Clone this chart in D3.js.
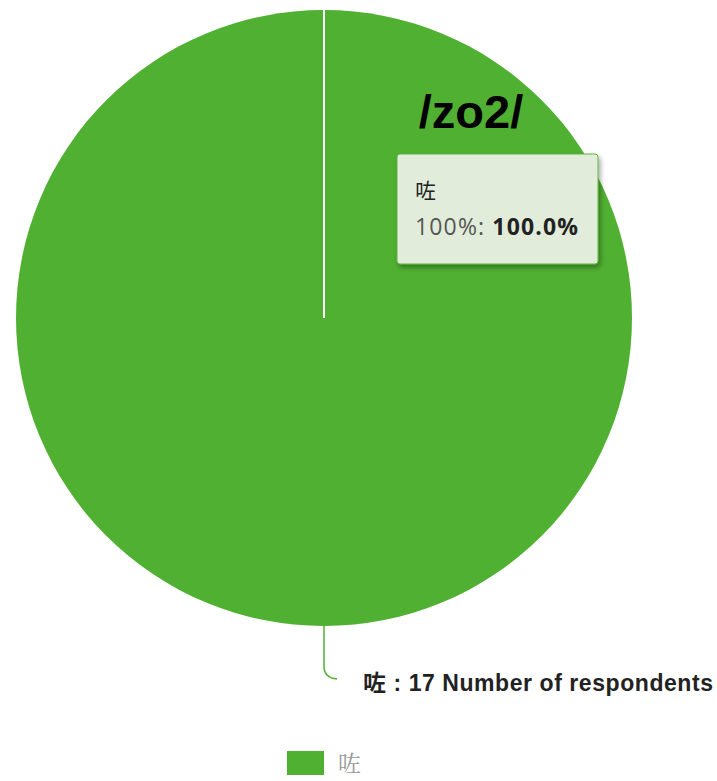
<!DOCTYPE html>
<html>
<head>
<meta charset="utf-8">
<script src="https://cdn.jsdelivr.net/npm/d3@7"></script>
<style>
  html, body { margin: 0; padding: 0; background: #fff; }
  svg { display: block; }
</style>
</head>
<body>
<svg id="chart" width="717" height="781"></svg>
<script>
const categories = ["咗"];
const values = [17];
const colors = ["#50b032"];
const title = "/zo2/";
const unitLabel = "Number of respondents";
const tooltipSeries = "100%";

const svg = d3.select("#chart");
const cx = 324, cy = 318, R = 308;
const g = svg.append("g").attr("transform", `translate(${cx}, ${cy})`);

const total = d3.sum(values);
const pie = d3.pie().sort(null).value(d => d);
const arcs = pie(values);
const arc = d3.arc().innerRadius(0).outerRadius(R);

g.selectAll("path.slice")
  .data(arcs)
  .join("path")
  .attr("class", "slice")
  .attr("d", arc)
  .attr("fill", (d, i) => colors[i]);

// slice border (start edge)
arcs.forEach(d => {
  const p = d3.pointRadial(d.startAngle, R);
  g.append("line")
    .attr("x1", 0).attr("y1", 0)
    .attr("x2", p[0]).attr("y2", p[1])
    .attr("stroke", "#ffffff").attr("stroke-width", 2);
});

// data label with connector
arcs.forEach((d, i) => {
  const mid = (d.startAngle + d.endAngle) / 2;
  const p = d3.pointRadial(mid, R);
  const x0 = p[0], y0 = p[1];
  g.append("path")
    .attr("d", `M${x0},${y0} L${x0},${y0 + 40} Q${x0},${y0 + 52} ${x0 + 13},${y0 + 53}`)
    .attr("fill", "none")
    .attr("stroke", colors[i])
    .attr("stroke-width", 1.5);
  g.append("text")
    .attr("x", x0 + 39).attr("y", y0 + 65)
    .attr("font-family", "'Liberation Sans', Arial, 'Noto Sans CJK TC', sans-serif")
    .attr("font-size", "23px").attr("font-weight", "bold")
    .attr("fill", "#222")
    .attr("textLength", 350).attr("lengthAdjust", "spacing")
    .text(`${categories[i]} : ${values[i]} ${unitLabel}`);
});

// title
svg.append("text")
  .attr("x", 471).attr("y", 128)
  .attr("text-anchor", "middle")
  .attr("font-family", "'Liberation Sans', Arial, sans-serif")
  .attr("font-size", "47px").attr("font-weight", "bold")
  .attr("fill", "#000")
  .text(title);

// tooltip
const defs = svg.append("defs");
const f = defs.append("filter").attr("id", "shadow")
  .attr("x", "-10%").attr("y", "-10%").attr("width", "130%").attr("height", "140%");
f.append("feDropShadow").attr("dx", 2).attr("dy", 3).attr("stdDeviation", 2.5)
  .attr("flood-color", "#000").attr("flood-opacity", 0.35);

const tip = svg.append("g").attr("transform", "translate(397, 154)");
tip.append("rect")
  .attr("width", 201).attr("height", 110).attr("rx", 3)
  .attr("fill", "#e1edda")
  .attr("stroke", "#5db541").attr("stroke-width", 1)
  .attr("filter", "url(#shadow)");
tip.append("text")
  .attr("x", 18).attr("y", 44)
  .attr("font-family", "'Noto Sans CJK TC', sans-serif")
  .attr("font-size", "21px").attr("fill", "#222")
  .text(categories[0]);
const t2 = tip.append("text")
  .attr("x", 18).attr("y", 81)
  .attr("font-family", "'Open Sans', 'DejaVu Sans', sans-serif")
  .attr("font-size", "23px")
  .attr("textLength", 163).attr("lengthAdjust", "spacing");
t2.append("tspan").attr("fill", "#555").text(`${tooltipSeries}: `);
t2.append("tspan").attr("fill", "#222").attr("font-weight", "bold")
  .text(`${(values[0] / total * 100).toFixed(1)}%`);

// legend
const legend = svg.append("g").attr("transform", "translate(287, 751)");
categories.forEach((c, i) => {
  legend.append("rect")
    .attr("x", 0).attr("y", 0).attr("width", 37).attr("height", 24)
    .attr("fill", colors[i]);
  legend.append("text")
    .attr("x", 51).attr("y", 21)
    .attr("font-family", "'Noto Serif CJK TC', 'Noto Sans CJK TC', serif")
    .attr("font-size", "23px").attr("fill", "#999")
    .text(c);
});
</script>
</body>
</html>
